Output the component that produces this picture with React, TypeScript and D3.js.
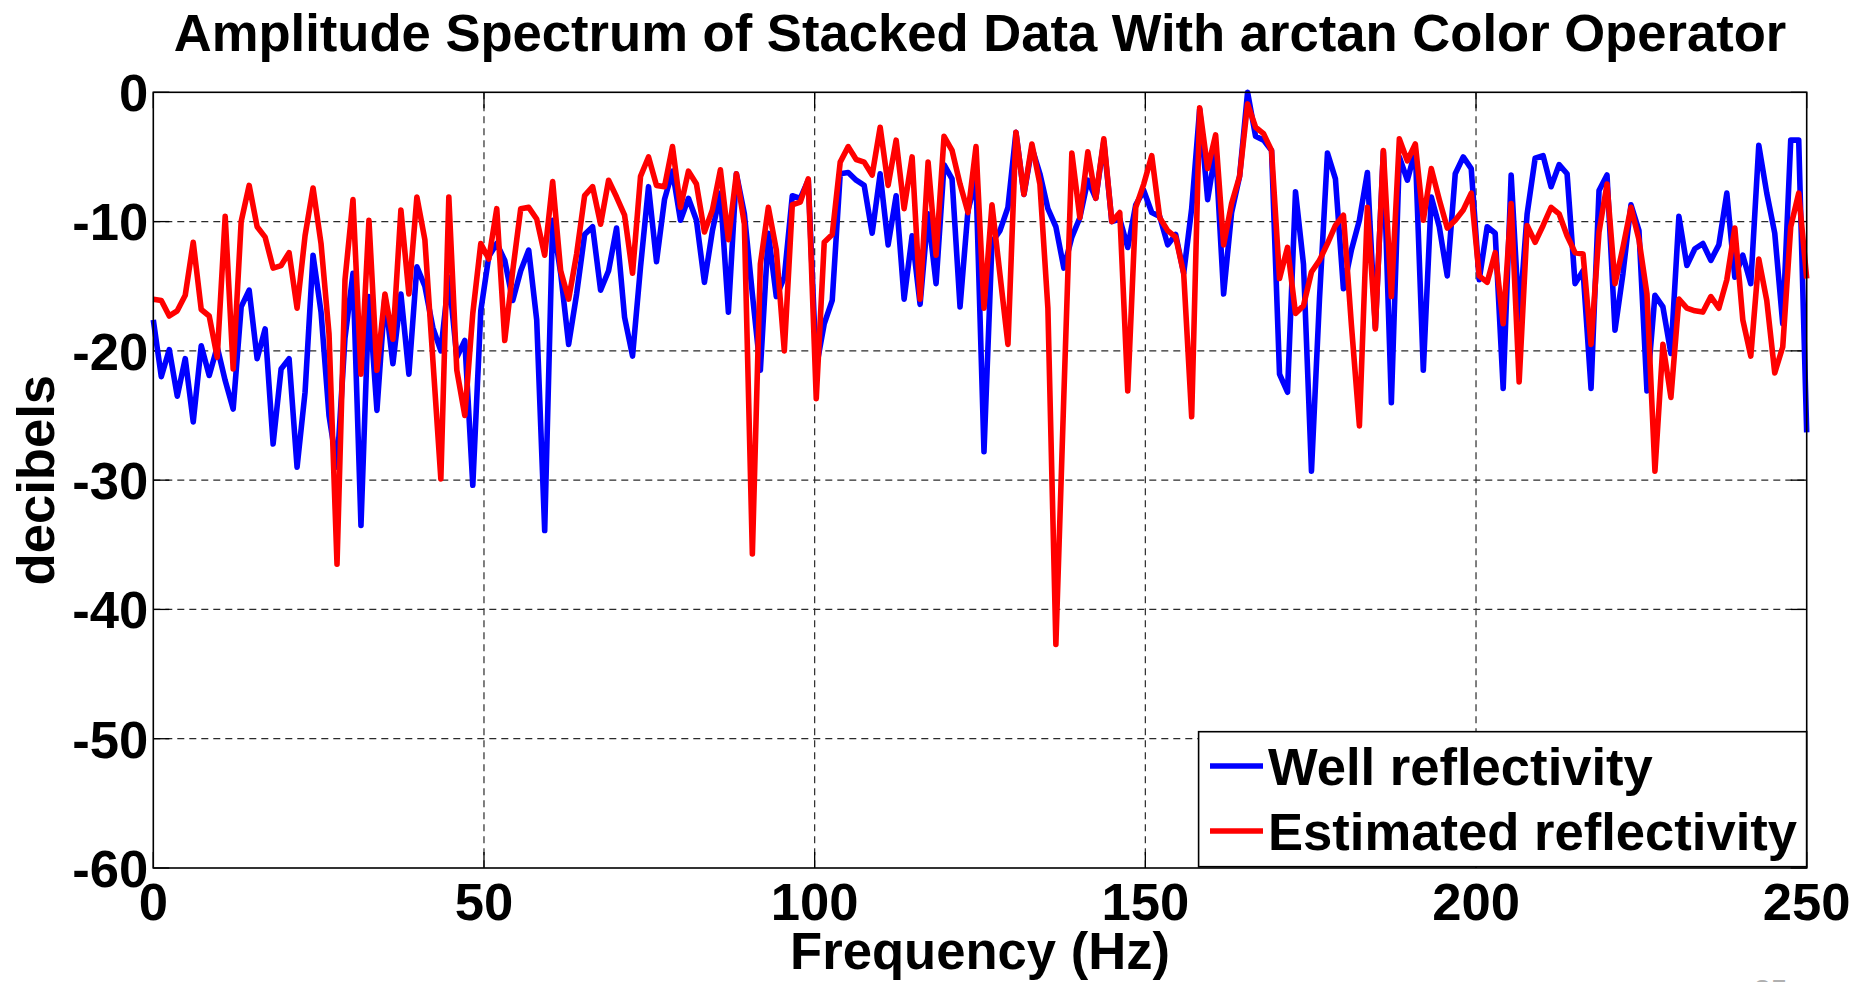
import React from 'react';
import * as d3 from 'd3';

// Amplitude spectra (dB), one value per frequency bin from 0 Hz to the 250 Hz Nyquist
const NYQUIST_HZ = 250;

const wellReflectivityDb = [
  -17.6, -22.0, -19.9, -23.5, -20.6, -25.5, -19.6, -21.9, -19.7, -22.3,
  -24.5, -16.6, -15.3, -20.6, -18.3, -27.2, -21.4, -20.6, -29.0, -23.2,
  -12.6, -17.0, -25.0, -29.0, -19.0, -14.0, -33.5, -15.8, -24.6, -15.8,
  -21.0, -15.6, -21.8, -13.5, -15.0, -18.2, -20.0, -14.3, -20.5, -19.2,
  -30.4, -16.9, -12.7, -11.7, -13.0, -16.1, -13.8, -12.2, -17.6, -33.9,
  -9.9, -14.0, -19.5, -15.6, -11.0, -10.4, -15.3, -13.8, -10.5, -17.4,
  -20.4, -13.5, -7.3, -13.1, -8.3, -6.1, -9.9, -8.2, -9.9, -14.7,
  -10.7, -7.8, -17.0, -6.3, -9.4, -15.6, -21.5, -10.9, -15.8, -14.3,
  -8.0, -8.2, -6.8, -21.3, -17.9, -16.1, -6.3, -6.2, -6.8, -7.2,
  -10.9, -6.3, -11.8, -8.0, -16.0, -11.1, -16.4, -9.4, -14.8, -5.6,
  -6.7, -16.6, -9.1, -6.8, -27.8, -11.6, -10.7, -8.9, -3.1, -7.9,
  -4.3, -6.3, -9.0, -10.4, -13.6, -11.2, -9.7, -6.8, -8.2, -3.8,
  -10.0, -9.8, -12.0, -8.7, -7.6, -9.3, -9.6, -11.8, -11.0, -14.0,
  -9.0, -1.3, -8.3, -4.5, -15.6, -9.3, -6.5, 0.0, -3.4, -3.7,
  -4.5, -21.8, -23.2, -7.7, -13.3, -29.3, -16.0, -4.7, -6.7, -15.2,
  -12.2, -9.9, -6.2, -18.2, -4.6, -24.0, -5.0, -6.8, -4.5, -21.5,
  -8.1, -10.4, -14.2, -6.3, -5.0, -5.9, -14.5, -10.4, -10.9, -22.9,
  -6.4, -17.6, -9.4, -5.1, -4.9, -7.3, -5.6, -6.3, -14.8, -13.8,
  -22.9, -7.6, -6.4, -18.4, -14.0, -8.7, -10.7, -23.1, -15.7, -16.6,
  -20.2, -9.6, -13.4, -12.1, -11.7, -13.0, -11.8, -7.8, -14.3, -12.6,
  -14.8, -4.1, -7.8, -10.9, -17.9, -3.7, -3.7, -26.3,
];

const estimatedReflectivityDb = [
  -16.0, -16.1, -17.3, -16.9, -15.7, -11.6, -16.8, -17.3, -20.5, -9.6,
  -21.4, -10.0, -7.2, -10.4, -11.2, -13.6, -13.4, -12.4, -16.7, -11.1,
  -7.4, -11.7, -18.7, -36.5, -14.5, -8.3, -21.8, -9.9, -21.5, -15.6,
  -19.1, -9.1, -15.6, -8.1, -11.4, -20.7, -29.9, -8.1, -21.5, -25.0,
  -17.1, -11.7, -12.9, -9.0, -19.2, -13.8, -9.0, -8.9, -9.8, -12.6,
  -6.9, -13.8, -16.0, -12.5, -8.0, -7.3, -10.2, -6.8, -8.1, -9.5,
  -14.0, -6.5, -5.0, -7.2, -7.3, -4.2, -8.9, -6.1, -7.1, -10.8,
  -9.1, -6.0, -11.4, -6.3, -10.2, -35.7, -13.3, -8.9, -12.2, -20.0,
  -8.7, -8.5, -6.7, -23.7, -11.6, -11.0, -5.4, -4.2, -5.2, -5.4,
  -6.4, -2.7, -7.2, -3.7, -9.0, -5.0, -16.0, -5.4, -12.6, -3.4,
  -4.5, -7.1, -9.3, -4.2, -16.7, -8.7, -14.1, -19.5, -3.1, -7.9,
  -4.0, -7.1, -16.7, -42.7, -23.4, -4.7, -9.7, -4.6, -8.2, -3.6,
  -10.0, -9.3, -23.1, -8.9, -7.1, -4.9, -9.7, -10.7, -11.2, -14.0,
  -25.1, -1.2, -5.9, -3.3, -11.8, -8.6, -6.5, -0.9, -2.7, -3.2,
  -4.5, -14.4, -12.0, -17.1, -16.5, -13.9, -13.0, -11.7, -10.3, -9.5,
  -18.0, -25.8, -8.9, -18.3, -4.5, -15.8, -3.6, -5.3, -4.0, -9.9,
  -5.9, -8.3, -10.5, -9.9, -9.1, -7.8, -14.2, -14.7, -12.4, -17.9,
  -8.6, -22.4, -10.3, -11.6, -10.3, -8.9, -9.4, -11.1, -12.4, -12.5,
  -19.5, -10.8, -7.1, -14.8, -12.0, -8.9, -11.4, -15.6, -29.3, -19.5,
  -23.6, -16.0, -16.7, -16.9, -17.0, -15.8, -16.7, -14.5, -10.5, -17.6,
  -20.4, -12.9, -16.1, -21.7, -19.7, -10.4, -7.8, -14.4,
];

const xTickValues = [0, 50, 100, 150, 200, 250];
const yTickValues = [0, -10, -20, -30, -40, -50, -60];

const seriesNames = ['Well reflectivity', 'Estimated reflectivity'];
const seriesColors = ['#0000ff', '#ff0000'];

const WIDTH = 1873;
const HEIGHT = 982;
const FONT = '"Liberation Sans", Arial, Helvetica, sans-serif';
const FS = 52.6;

export default function App() {
  const plot = { left: 153.3, right: 1806.7, top: 92.3, bottom: 868 };
  const x = d3.scaleLinear().domain([0, NYQUIST_HZ]).range([plot.left, plot.right]);
  const y = d3.scaleLinear().domain([-60, 0]).range([plot.bottom, plot.top]);

  const binHz = NYQUIST_HZ / (wellReflectivityDb.length - 1);
  const spectrumLine = d3
    .line<number>()
    .x((_, i) => x(i * binHz))
    .y((d) => y(d));

  const series = [wellReflectivityDb, estimatedReflectivityDb];
  const tickLen = 16;

  const legend = { left: 1198.6, right: 1806.6, top: 731.7, bottom: 866.7 };
  const legendRows = [766, 831];

  return (
    <div style={{ position: 'fixed', left: 0, top: 0, width: WIDTH, height: HEIGHT, background: '#fff', overflow: 'hidden' }}>
      <svg width={WIDTH} height={HEIGHT} viewBox={`0 0 ${WIDTH} ${HEIGHT}`} style={{ display: 'block' }}>
        <rect x={0} y={0} width={WIDTH} height={HEIGHT} fill="#fff" />

        {/* grid */}
        <g stroke="#2a2a2a" strokeWidth={1.2} strokeDasharray="7,5" fill="none">
          {xTickValues.slice(1, -1).map((t) => (
            <line key={`gx${t}`} x1={x(t)} x2={x(t)} y1={plot.top} y2={plot.bottom} />
          ))}
          {yTickValues.slice(1, -1).map((t) => (
            <line key={`gy${t}`} x1={plot.left} x2={plot.right} y1={y(t)} y2={y(t)} />
          ))}
        </g>

        {/* inward ticks on all four sides */}
        <g stroke="#000" strokeWidth={1.3}>
          {xTickValues.map((t) => (
            <g key={`tx${t}`}>
              <line x1={x(t)} x2={x(t)} y1={plot.bottom} y2={plot.bottom - tickLen} />
              <line x1={x(t)} x2={x(t)} y1={plot.top} y2={plot.top + tickLen} />
            </g>
          ))}
          {yTickValues.map((t) => (
            <g key={`ty${t}`}>
              <line x1={plot.left} x2={plot.left + tickLen} y1={y(t)} y2={y(t)} />
              <line x1={plot.right} x2={plot.right - tickLen} y1={y(t)} y2={y(t)} />
            </g>
          ))}
        </g>

        {/* spectra */}
        {series.map((s, k) => (
          <path
            key={seriesNames[k]}
            d={spectrumLine(s) || ''}
            fill="none"
            stroke={seriesColors[k]}
            strokeWidth={5.6}
            strokeLinejoin="round"
            strokeLinecap="butt"
          />
        ))}

        {/* axes box */}
        <rect
          x={plot.left}
          y={plot.top}
          width={plot.right - plot.left}
          height={plot.bottom - plot.top}
          fill="none"
          stroke="#000"
          strokeWidth={1.6}
        />

        {/* tick labels */}
        <g fontFamily={FONT} fontWeight="bold" fontSize={FS} fill="#000">
          {yTickValues.map((t) => (
            <text key={`ly${t}`} x={plot.left - 5} y={y(t) + FS * 0.358} textAnchor="end">
              {t}
            </text>
          ))}
          {xTickValues.map((t) => (
            <text key={`lx${t}`} x={x(t)} y={920} textAnchor="middle">
              {t}
            </text>
          ))}
        </g>

        {/* title and axis labels */}
        <g fontFamily={FONT} fontWeight="bold" fontSize={FS} fill="#000">
          <text x={(plot.left + plot.right) / 2} y={51} textAnchor="middle">
            Amplitude Spectrum of Stacked Data With arctan Color Operator
          </text>
          <text x={(plot.left + plot.right) / 2} y={969} textAnchor="middle">
            Frequency (Hz)
          </text>
          <text
            transform={`translate(54, ${(plot.top + plot.bottom) / 2}) rotate(-90)`}
            textAnchor="middle"
          >
            decibels
          </text>
        </g>

        {/* legend */}
        <rect
          x={legend.left}
          y={legend.top}
          width={legend.right - legend.left}
          height={legend.bottom - legend.top}
          fill="#fff"
          stroke="#000"
          strokeWidth={1.6}
        />
        {seriesNames.map((name, k) => (
          <g key={`lg${k}`}>
            <line x1={1210} x2={1263} y1={legendRows[k]} y2={legendRows[k]} stroke={seriesColors[k]} strokeWidth={5.6} />
            <text
              x={1268}
              y={legendRows[k] + 19}
              fontFamily={FONT}
              fontWeight="bold"
              fontSize={FS}
              fill="#000"
            >
              {name}
            </text>
          </g>
        ))}

        {/* slide number at the bottom edge */}
        <text x={1754} y={1000} fontFamily={FONT} fontSize={30} fill="#b0b0b0">
          35
        </text>
      </svg>
    </div>
  );
}
